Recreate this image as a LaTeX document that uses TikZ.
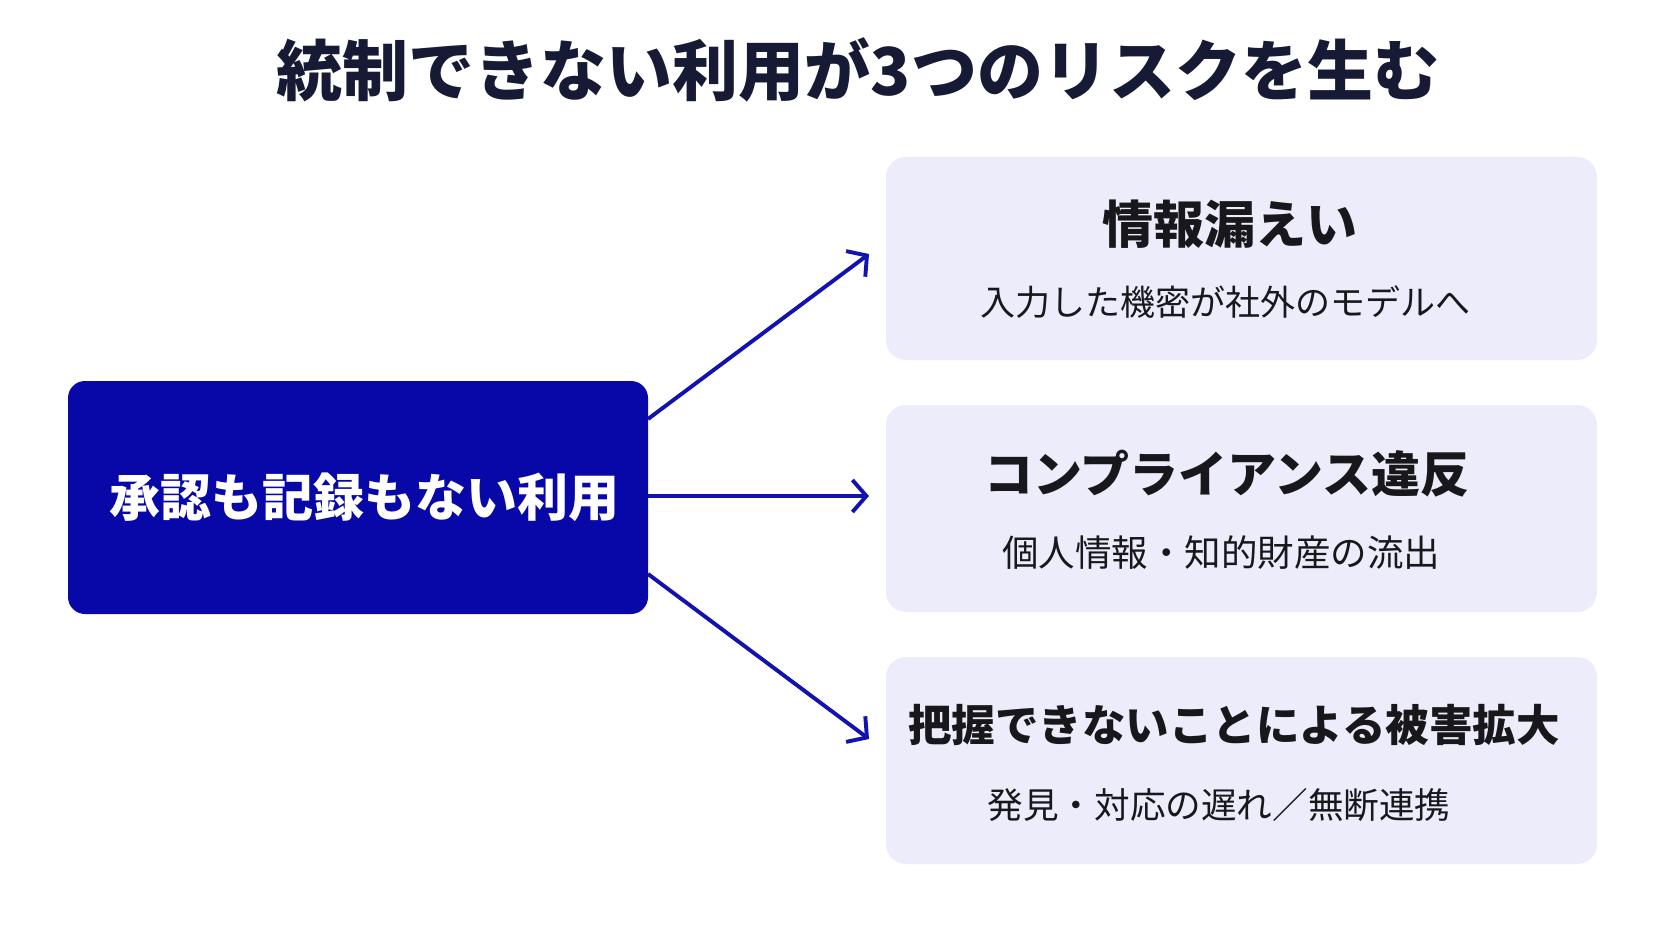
\documentclass[tikz,border=0pt]{standalone}
\usepackage{fontspec}
\setmainfont{Noto Sans CJK JP}
\usetikzlibrary{arrows.meta,calc}
\definecolor{navy}{RGB}{22,26,52}
\definecolor{deepblue}{RGB}{8,8,168}
\definecolor{arrowblue}{RGB}{18,18,176}
\definecolor{lav}{RGB}{236,236,250}
\definecolor{ink}{RGB}{24,24,28}
\tikzset{
  srcbox/.style={fill=deepblue, rounded corners=17pt, inner sep=0pt},
  riskbox/.style={fill=lav, rounded corners=20pt, inner sep=0pt, minimum width=711pt},
  head/.style={text=ink, font=\bfseries\fontsize{51}{58}\selectfont, inner sep=0pt},
  sub/.style={text=ink, font=\fontsize{35}{42}\selectfont, inner sep=0pt},
  link/.style={draw=arrowblue, line width=3.9pt, -{Straight Barb[length=14pt, width=32pt, line width=3.9pt]}}
}
\begin{document}
\begin{tikzpicture}[x=1pt, y=-1pt]
\useasboundingbox (0,0) rectangle (1672,941);
\fill[white] (0,0) rectangle (1672,941);
\node[text=navy, font=\bfseries\fontsize{66}{76}\selectfont, inner sep=0pt] (title) at (858,70) {統制できない利用が3つのリスクを生む};
\node[srcbox, minimum width=580pt, minimum height=233pt] (src) at (358,497.5) {};
\node[text=white, font=\bfseries\fontsize{51}{58}\selectfont, inner sep=0pt] (srct) at (364,497) {承認も記録もない利用};
\node[riskbox, minimum height=203pt] (r1) at (1241.5,258.5) {};
\node[riskbox, minimum height=207pt] (r2) at (1241.5,508.5) {};
\node[riskbox, minimum height=207pt] (r3) at (1241.5,760.5) {};
\node[head] (h1) at (1230,224) {情報漏えい};
\node[sub] (s1) at (1225,302) {入力した機密が社外のモデルへ};
\node[head, font=\bfseries\fontsize{49}{56}\selectfont] (h2) at (1227,474) {コンプライアンス違反};
\node[sub, font=\fontsize{36.5}{42}\selectfont] (s2) at (1221,553) {個人情報・知的財産の流出};
\node[head, font=\bfseries\fontsize{43.5}{52}\selectfont] (h3) at (1234,725) {把握できないことによる被害拡大};
\node[sub, font=\fontsize{35.6}{42}\selectfont] (s3) at (1219,805) {発見・対応の遅れ／無断連携};
\coordinate (a1) at (648,419);
\coordinate (a2) at (648,496);
\coordinate (a3) at (648,574);
\coordinate (e1) at (869,254);
\coordinate (e2) at (869,496);
\coordinate (e3) at (869,739);
\draw[link] (a1) -- (e1);
\draw[link] (a2) -- (e2);
\draw[link] (a3) -- (e3);
\end{tikzpicture}
\end{document}
